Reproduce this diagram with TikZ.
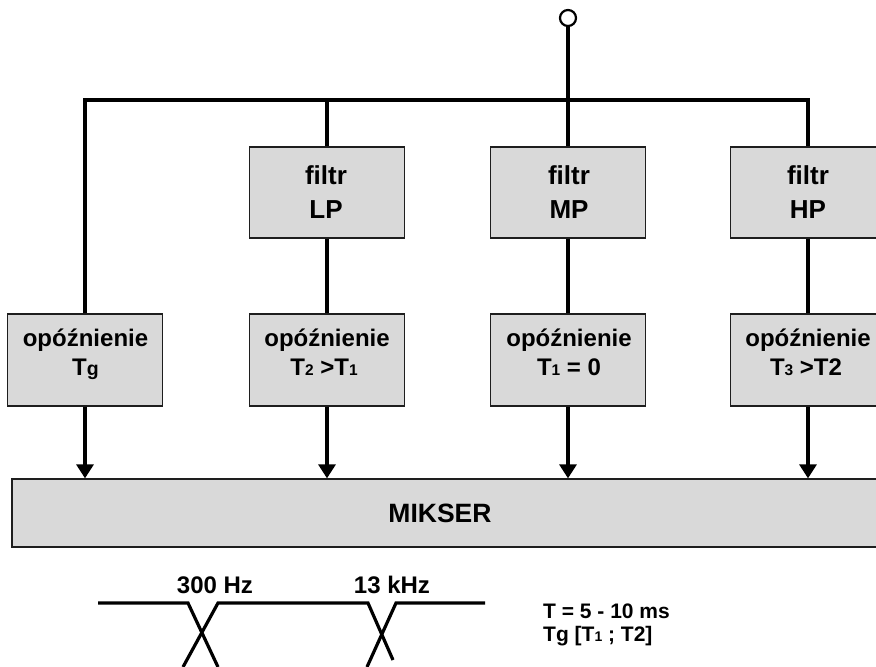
\documentclass[tikz,border=0pt]{standalone}
\usepackage{fontspec}
\setmainfont{Liberation Sans}
\usetikzlibrary{arrows.meta}
\definecolor{boxfill}{HTML}{D9D9D9}
\definecolor{boxline}{HTML}{1E1E1E}
\newcommand\subsz[1]{{\fontsize{15.5}{16}\selectfont #1}}
\newcommand\subsg[1]{{\fontsize{19.5}{20}\selectfont #1}}
\newcommand\subsm[1]{{\fontsize{14}{14}\selectfont #1}}
\tikzset{
  blk/.style={draw=boxline, fill=boxfill, line width=1.3pt, minimum width=155pt, minimum height=92pt, inner sep=0pt},
  wire/.style={line width=3.2pt, line join=miter, line cap=butt},
  arr/.style={wire, -{Triangle[length=14pt,width=17pt]}},
  lbl/.style={font=\fontsize{24}{28}\selectfont\bfseries, inner sep=0pt, anchor=base},
  big/.style={font=\fontsize{26}{30}\selectfont\bfseries, inner sep=0pt, anchor=base},
  note/.style={font=\fontsize{21}{24}\selectfont\bfseries, inner sep=0pt, anchor=base west},
}
\begin{document}
\begin{tikzpicture}[x=1pt,y=-1pt]
\useasboundingbox (0,0) rectangle (876,667);
% input
\node[circle, draw, line width=2.2pt, minimum size=16pt, inner sep=0pt, fill=white] (in) at (568,18) {};
\coordinate (b1) at (85,100);
\coordinate (b2) at (327,100);
\coordinate (b3) at (568,100);
\coordinate (b4) at (808,100);
% filters
\node[blk, minimum height=91pt] (lp) at (327,192.5) {};
\node[blk, minimum height=91pt] (mp) at (568,192.5) {};
\node[blk, minimum height=91pt] (hp) at (808,192.5) {};
% delays
\node[blk] (tg) at (85,360) {};
\node[blk] (t2) at (327,360) {};
\node[blk] (t1) at (568,360) {};
\node[blk] (t3) at (808,360) {};
% mixer
\node[blk, minimum width=870pt, minimum height=68pt] (mix) at (447,513) {};
% wires
\draw[wire] (in.south) -- (b3);
\draw[wire] (tg.north) -- (b1) -- (b4) -- (hp.north);
\draw[wire] (b2) -- (lp.north);
\draw[wire] (b3) -- (mp.north);
\draw[wire] (lp.south) -- (t2.north);
\draw[wire] (mp.south) -- (t1.north);
\draw[wire] (hp.south) -- (t3.north);
\draw[arr] (tg.south) -- (tg.south |- mix.north);
\draw[arr] (t2.south) -- (t2.south |- mix.north);
\draw[arr] (t1.south) -- (t1.south |- mix.north);
\draw[arr] (t3.south) -- (t3.south |- mix.north);
% texts
\node[big] (lpa) at (326,184) {filtr};
\node[big] (lpb) at (326,218.5) {LP};
\node[big] (mpa) at (569,184) {filtr};
\node[big] (mpb) at (569,218.5) {MP};
\node[big] (hpa) at (808,184) {filtr};
\node[big] (hpb) at (808,218.5) {HP};
\node[lbl] (tga) at (85.5,346) {opóźnienie};
\node[lbl] (tgb) at (85.5,375) {T\subsg{g}};
\node[lbl] (t2a) at (327,346) {opóźnienie};
\node[lbl] (t2b) at (324,375) {T\subsz{2} >T\subsz{1}};
\node[lbl] (t1a) at (569,346) {opóźnienie};
\node[lbl] (t1b) at (569,375) {T\subsz{1} = 0};
\node[lbl] (t3a) at (808,346) {opóźnienie};
\node[lbl] (t3b) at (806,375) {T\subsz{3} >T2};
\node[font=\fontsize{26.5}{30}\selectfont\bfseries, inner sep=0pt, anchor=base] (mixl) at (440,522) {MIKSER};
% crossover sketch
\draw[wire] (98,603) -- (188,603) -- (218,667);
\draw[wire] (183,667) -- (218,603) -- (368,603) -- (393,660);
\draw[wire] (367,667) -- (396,603) -- (485,603);
\node[lbl] (f1) at (215,593) {300 Hz};
\node[lbl] (f2) at (392,593) {13 kHz};
\node[note] (n1) at (543,618) {T = 5 - 10 ms};
\node[note] (n2) at (543,641.5) {Tg [T\subsm{1} ; T2]};
\end{tikzpicture}
\end{document}
